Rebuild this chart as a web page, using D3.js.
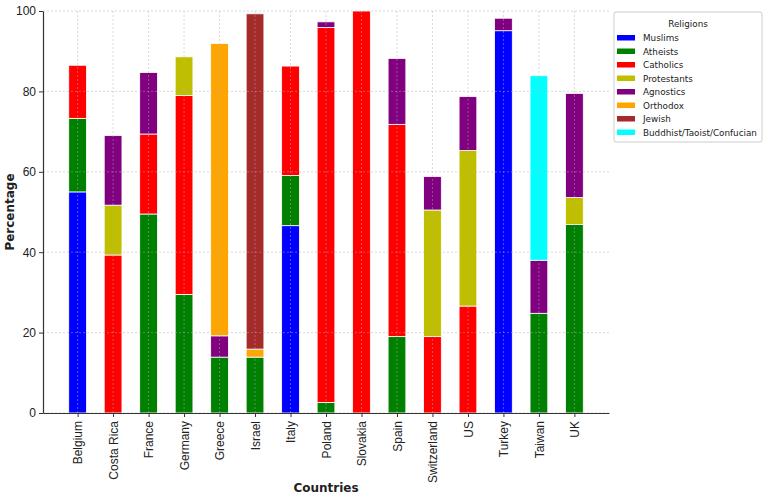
<!DOCTYPE html>
<html>
<head>
<meta charset="utf-8">
<script src="https://cdn.jsdelivr.net/npm/d3@7"></script>
<style>
  body { margin: 0; background: #fff; }
  svg { font-family: "DejaVu Sans", sans-serif; }
</style>
</head>
<body>
<svg id="chart" width="767" height="497"></svg>
<script>
'use strict';

const countries = ['Belgium', 'Costa Rica', 'France', 'Germany', 'Greece', 'Israel', 'Italy',
  'Poland', 'Slovakia', 'Spain', 'Switzerland', 'US', 'Turkey', 'Taiwan', 'UK'];

const religions = ['Muslims', 'Atheists', 'Catholics', 'Protestants', 'Agnostics',
  'Orthodox', 'Jewish', 'Buddhist/Taoist/Confucian'];

const colors = ['#0000ff', '#008000', '#ff0000', '#bfbf00', '#800080', '#ffa500', '#a52a2a', '#00ffff'];

// one array per religion, in the order of countries
const muslims     = [55.0, 0, 0, 0, 0, 0, 46.6, 0, 0, 0, 0, 0, 95.1, 0, 0];
const atheists    = [18.3, 0, 49.5, 29.5, 13.9, 13.9, 12.5, 2.6, 0, 19.0, 0, 0, 0, 24.8, 46.9];
const catholics   = [13.2, 39.3, 19.9, 49.5, 0, 0, 27.2, 93.3, 100, 52.8, 19.0, 26.6, 0, 0, 0];
const protestants = [0, 12.4, 0, 9.6, 0, 0, 0, 0, 0, 0, 31.5, 38.7, 0, 0, 6.7];
const agnostics   = [0, 17.3, 15.3, 0, 5.3, 0, 0, 1.4, 0, 16.4, 8.3, 13.4, 3.1, 13.2, 25.9];
const orthodox    = [0, 0, 0, 0, 72.7, 2.0, 0, 0, 0, 0, 0, 0, 0, 0, 0];
const jewish      = [0, 0, 0, 0, 0, 83.4, 0, 0, 0, 0, 0, 0, 0, 0, 0];
const buddhist    = [0, 0, 0, 0, 0, 0, 0, 0, 0, 0, 0, 0, 0, 45.9, 0];

const yTicks = [0, 20, 40, 60, 80, 100];

const seriesValues = [muslims, atheists, catholics, protestants, agnostics, orthodox, jewish, buddhist];

const rows = countries.map((c, i) => {
  const row = { country: c };
  religions.forEach((r, j) => { row[r] = seriesValues[j][i]; });
  return row;
});

const margin = { left: 43, right: 158, top: 11, bottom: 84 };
const W = 767, H = 497;
const svg = d3.select('#chart');

// matplotlib-like x limits: bars of width 0.5 at integer positions
const x = d3.scaleLinear().domain([-0.975, countries.length - 1 + 0.975]).range([margin.left, W - margin.right]);
const y = d3.scaleLinear().domain([0, 100]).range([H - margin.bottom, margin.top]);
const barW = x(0.5) - x(0);

const stack = d3.stack().keys(religions)(rows);

const plot = svg.append('g');

plot.selectAll('.layer')
  .data(stack)
  .enter()
  .append('g')
  .attr('fill', (d, i) => colors[i])
  .selectAll('rect')
  .data(d => d.filter(p => p[1] - p[0] > 0))
  .enter()
  .append('rect')
  .attr('x', d => x(countries.indexOf(d.data.country)) - barW / 2)
  .attr('width', barW)
  .attr('y', d => y(d[1]))
  .attr('height', d => y(d[0]) - y(d[1]))
  .attr('stroke', '#fff')
  .attr('stroke-width', 0.8);

// grid on top of bars
const grid = svg.append('g')
  .attr('stroke', '#b0b0b0')
  .attr('stroke-width', 0.8)
  .attr('stroke-dasharray', '2,2')
  .attr('opacity', 0.6);

grid.selectAll('.hg')
  .data(yTicks)
  .enter()
  .append('line')
  .attr('x1', margin.left)
  .attr('x2', W - margin.right)
  .attr('y1', d => y(d))
  .attr('y2', d => y(d));

grid.selectAll('.vg')
  .data(countries)
  .enter()
  .append('line')
  .attr('x1', (d, i) => x(i))
  .attr('x2', (d, i) => x(i))
  .attr('y1', margin.top)
  .attr('y2', H - margin.bottom);

// axes
const yAxis = svg.append('g')
  .attr('transform', `translate(${margin.left},0)`)
  .call(d3.axisLeft(y).tickValues(yTicks).tickSize(4).tickPadding(3).tickSizeOuter(0));

const xAxis = svg.append('g')
  .attr('transform', `translate(0,${H - margin.bottom})`)
  .call(d3.axisBottom(x).tickValues(d3.range(countries.length)).tickFormat(i => countries[i])
    .tickSize(4).tickSizeOuter(0));

[xAxis, yAxis].forEach(a => {
  a.select('.domain').attr('stroke', '#333').attr('stroke-width', 1.2);
  a.selectAll('.tick line').attr('stroke', '#333');
  a.selectAll('.tick text').attr('fill', '#222').style('font-size', '12px');
});

xAxis.selectAll('.tick text')
  .attr('transform', 'rotate(-90)')
  .attr('text-anchor', 'end')
  .attr('x', -8)
  .attr('y', 0)
  .attr('dy', '0.35em');

svg.append('text')
  .attr('x', (margin.left + W - margin.right) / 2)
  .attr('y', 492)
  .attr('text-anchor', 'middle')
  .style('font-size', '12px')
  .style('font-weight', 'bold')
  .attr('fill', '#222')
  .text('Countries');

svg.append('text')
  .attr('transform', `translate(14,${(margin.top + H - margin.bottom) / 2}) rotate(-90)`)
  .attr('text-anchor', 'middle')
  .style('font-size', '12px')
  .style('font-weight', 'bold')
  .attr('fill', '#222')
  .text('Percentage');

// legend
const legend = svg.append('g').attr('transform', 'translate(614,12)');

legend.append('rect')
  .attr('width', 148)
  .attr('height', 130)
  .attr('rx', 2)
  .attr('fill', '#fff')
  .attr('stroke', '#ccc');

legend.append('text')
  .attr('x', 74)
  .attr('y', 14.5)
  .attr('text-anchor', 'middle')
  .style('font-size', '8.8px')
  .attr('fill', '#222')
  .text('Religions');

const items = legend.selectAll('.item')
  .data(religions)
  .enter()
  .append('g')
  .attr('transform', (d, i) => `translate(0,${26 + i * 13.5})`);

items.append('rect')
  .attr('x', 3)
  .attr('y', -3)
  .attr('width', 18)
  .attr('height', 5.5)
  .attr('fill', (d, i) => colors[i]);

items.append('text')
  .attr('x', 29)
  .attr('y', 0)
  .attr('dy', '0.35em')
  .style('font-size', '8.8px')
  .attr('fill', '#222')
  .text(d => d);
</script>
</body>
</html>
